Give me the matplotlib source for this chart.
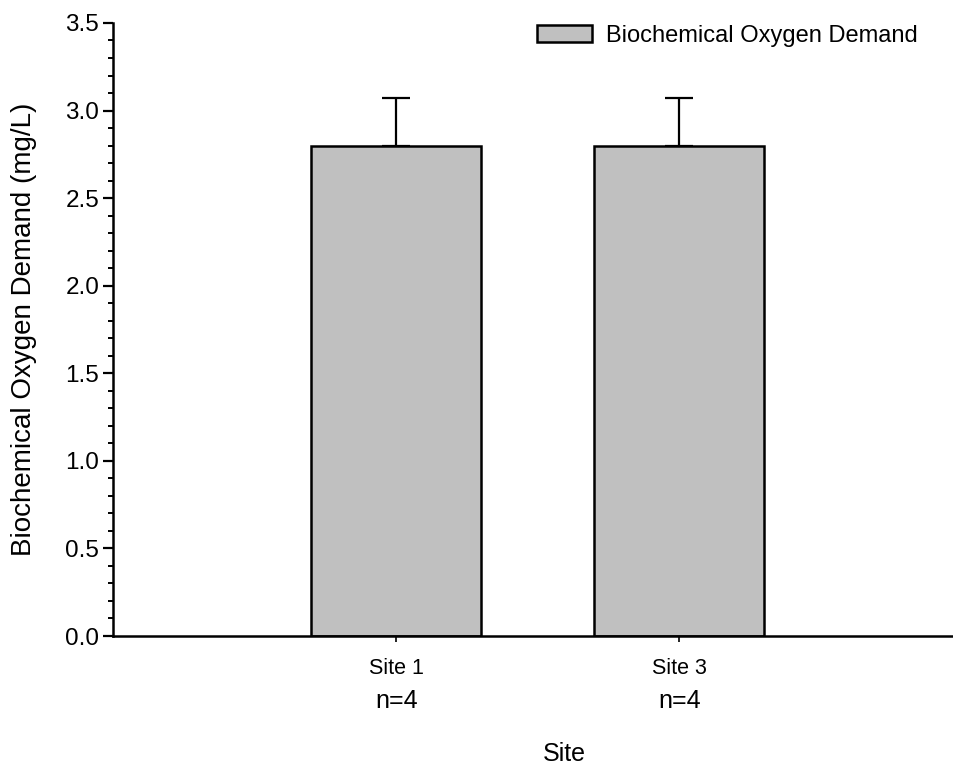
import matplotlib
matplotlib.use("Agg")
import matplotlib.pyplot as plt
from matplotlib.ticker import MultipleLocator, FormatStrFormatter

# Data
sites = ["Site 1", "Site 3"]
counts = ["n=4", "n=4"]
bod_mean = [2.80, 2.80]
bod_err = [0.27, 0.27]

plt.rcParams["font.family"] = ["Liberation Sans", "DejaVu Sans"]

fig = plt.figure(figsize=(9.54, 7.76), dpi=100)
ax = fig.add_axes([0.1185, 0.1804, 0.8815, 0.79])

positions = list(range(1, len(sites) + 1))
ax.bar(positions, bod_mean, width=0.6, color="#c0c0c0", edgecolor="black",
       linewidth=1.8, label="Biochemical Oxygen Demand", zorder=2)
ax.errorbar(positions, bod_mean, yerr=[[0] * len(bod_err), bod_err], fmt="none",
            ecolor="black", elinewidth=1.6, capsize=10, capthick=1.6, zorder=1)

ax.set_xlim(0, 2.97)
ax.set_ylim(0, 3.5)
ax.yaxis.set_major_locator(MultipleLocator(0.5))
ax.yaxis.set_minor_locator(MultipleLocator(0.1))
ax.yaxis.set_major_formatter(FormatStrFormatter("%.1f"))

ax.set_xticks(positions)
ax.set_xticklabels(sites, fontsize=15.5)
for p, c in zip(positions, counts):
    ax.annotate(c, xy=(p, 0), xycoords=("data", "axes fraction"),
                xytext=(0, -38), textcoords="offset points",
                ha="center", va="top", fontsize=18)

for s in ("top", "right"):
    ax.spines[s].set_visible(False)
for s in ("left", "bottom"):
    ax.spines[s].set_linewidth(1.8)

ax.tick_params(axis="y", which="major", direction="out", length=7, width=1.6,
               labelsize=17.5, pad=3)
ax.tick_params(axis="y", which="minor", direction="out", length=3.6, width=1.4)
ax.tick_params(axis="x", which="major", direction="out", length=4, width=1.2,
               pad=12)

ax.set_ylabel("Biochemical Oxygen Demand (mg/L)", fontsize=20, labelpad=20)
ax.set_xlabel("Site", fontsize=18, labelpad=45)
ax.xaxis.label.set_x(0.537)

ax.legend(loc="upper right", frameon=False, fontsize=17, handlelength=2.33,
          handleheight=0.76, handletextpad=0.6, borderaxespad=0.0,
          borderpad=0.2, bbox_to_anchor=(0.963, 1.005))

fig.savefig("out.png", dpi=100, facecolor="white")
